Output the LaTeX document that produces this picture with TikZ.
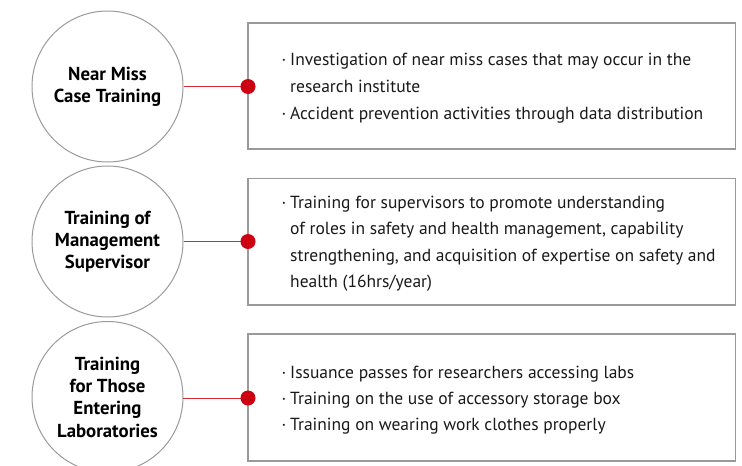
\documentclass[tikz,border=0pt]{standalone}
\usepackage{fontspec}
\setmainfont{PT Sans}
\begin{document}
\begin{tikzpicture}[x=1pt,y=-1pt,
  topic/.style={circle,draw=circgray,line width=1pt,minimum size=151pt,inner sep=0pt,align=center,font=\fontsize{18.8}{22.3}\selectfont\bfseries},
  panel/.style={draw=circgray,line width=1.2pt},
  link/.style={draw=linkred,line width=1pt},
  dot/.style={circle,fill=dotred,minimum size=15pt,inner sep=0pt},
  txt/.style={anchor=base west,inner sep=0pt,font=\fontsize{17.5}{26}\selectfont,text=black!90}
]
\definecolor{circgray}{HTML}{9A9A9A}
\definecolor{linkred}{HTML}{D42A35}
\definecolor{dotred}{HTML}{CC0010}
\useasboundingbox (0,0) rectangle (742,466);
\newcommand{\bul}{\makebox[8.5pt][l]{·}}
% boxes
\draw[panel] (248,23) rectangle (735.5,149);
\draw[panel] (248,178.3) rectangle (735.5,305);
\draw[panel] (248,334) rectangle (735.5,461);
% circles
\node[topic] (c1) at (107.5,86.5) {Near Miss\\Case Training};
\node[topic] (c2) at (107.5,241.5) {Training of\\Management\\Supervisor};
\node[topic] (c3) at (107.5,397) {Training\\for Those\\Entering\\Laboratories};
% dots
\coordinate (p1) at (248,86.5);
\coordinate (p2) at (248,241.5);
\coordinate (p3) at (248,398);
\coordinate (c3e) at (183,398);
\draw[link] (c1.east) -- (p1);
\draw[link] (c2.east) -- (p2);
\draw[link] (c3e) -- (p3);
\node[dot] (d1) at (p1) {};
\node[dot] (d2) at (p2) {};
\node[dot] (d3) at (p3) {};
% texts
\node[txt] (t11) at (281.5,65.7) {\bul Investigation of near miss cases that may occur in the};
\node[txt] (t12) at (290,92.5) {research institute};
\node[txt] (t13) at (281.5,119.3) {\bul Accident prevention activities through data distribution};
\node[txt] (t21) at (281.5,208.3) {\bul Training for supervisors to promote understanding};
\node[txt] (t22) at (290,234.6) {of roles in safety and health management, capability};
\node[txt] (t23) at (290,261) {strengthening, and acquisition of expertise on safety and};
\node[txt] (t24) at (290,287.3) {health (16hrs/year)};
\node[txt] (t31) at (281.5,378.3) {\bul Issuance passes for researchers accessing labs};
\node[txt] (t32) at (281.5,404.5) {\bul Training on the use of accessory storage box};
\node[txt] (t33) at (281.5,430.5) {\bul Training on wearing work clothes properly};
\end{tikzpicture}
\end{document}
